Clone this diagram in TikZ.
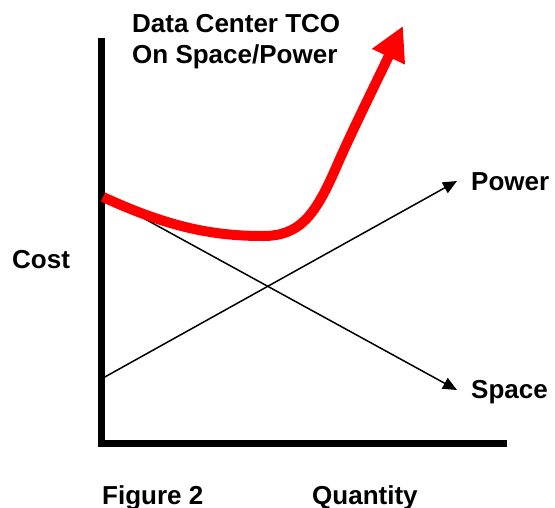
\documentclass[tikz,border=0pt]{standalone}
\usepackage{fontspec}
\setmainfont{Liberation Sans}
\usetikzlibrary{arrows.meta}
\begin{document}
\begin{tikzpicture}[x=1pt,y=-1pt,
  lbl/.style={anchor=base west,inner sep=0pt,font=\fontsize{26}{31}\selectfont\bfseries},
  axis/.style={line width=7pt},
  thin/.style={line width=1.5pt,-{Triangle[length=14pt,width=12pt]}},
  tco/.style={line width=10pt,red,-{Triangle[length=34pt,width=34pt]}}]
\useasboundingbox (0,0) rectangle (555,507);
\coordinate (top) at (101.5,38);
\coordinate (origin) at (101.5,443);
\coordinate (xend) at (507,443);
\coordinate (sstart) at (103,196);
\coordinate (send) at (457,390);
\coordinate (pstart) at (103,378);
\coordinate (pend) at (457,181);
\coordinate (rstart) at (103,197);
\coordinate (rmin) at (263,236);
\coordinate (rmid) at (335,170);
\coordinate (rend) at (403,26);
\draw[axis] (top) -- (origin) -- (xend);
\draw[thin] (sstart) -- (send);
\draw[thin] (pstart) -- (pend);
\draw[tco] (rstart) .. controls (170,228) and (215,236) .. (rmin)
  .. controls (300,236) and (315,215) .. (rmid)
  .. controls (350,135) and (375,85) .. (rend);
\node[lbl] (t1) at (132,32) {Data Center TCO};
\node[lbl] (t2) at (132,63) {On Space/Power};
\node[lbl] (cost) at (12,268) {Cost};
\node[lbl] (power) at (471,190) {Power};
\node[lbl] (space) at (471,398) {Space};
\node[lbl] (fig) at (102,504) {Figure 2};
\node[lbl] (qty) at (312,504) {Quantity};
\end{tikzpicture}
\end{document}
